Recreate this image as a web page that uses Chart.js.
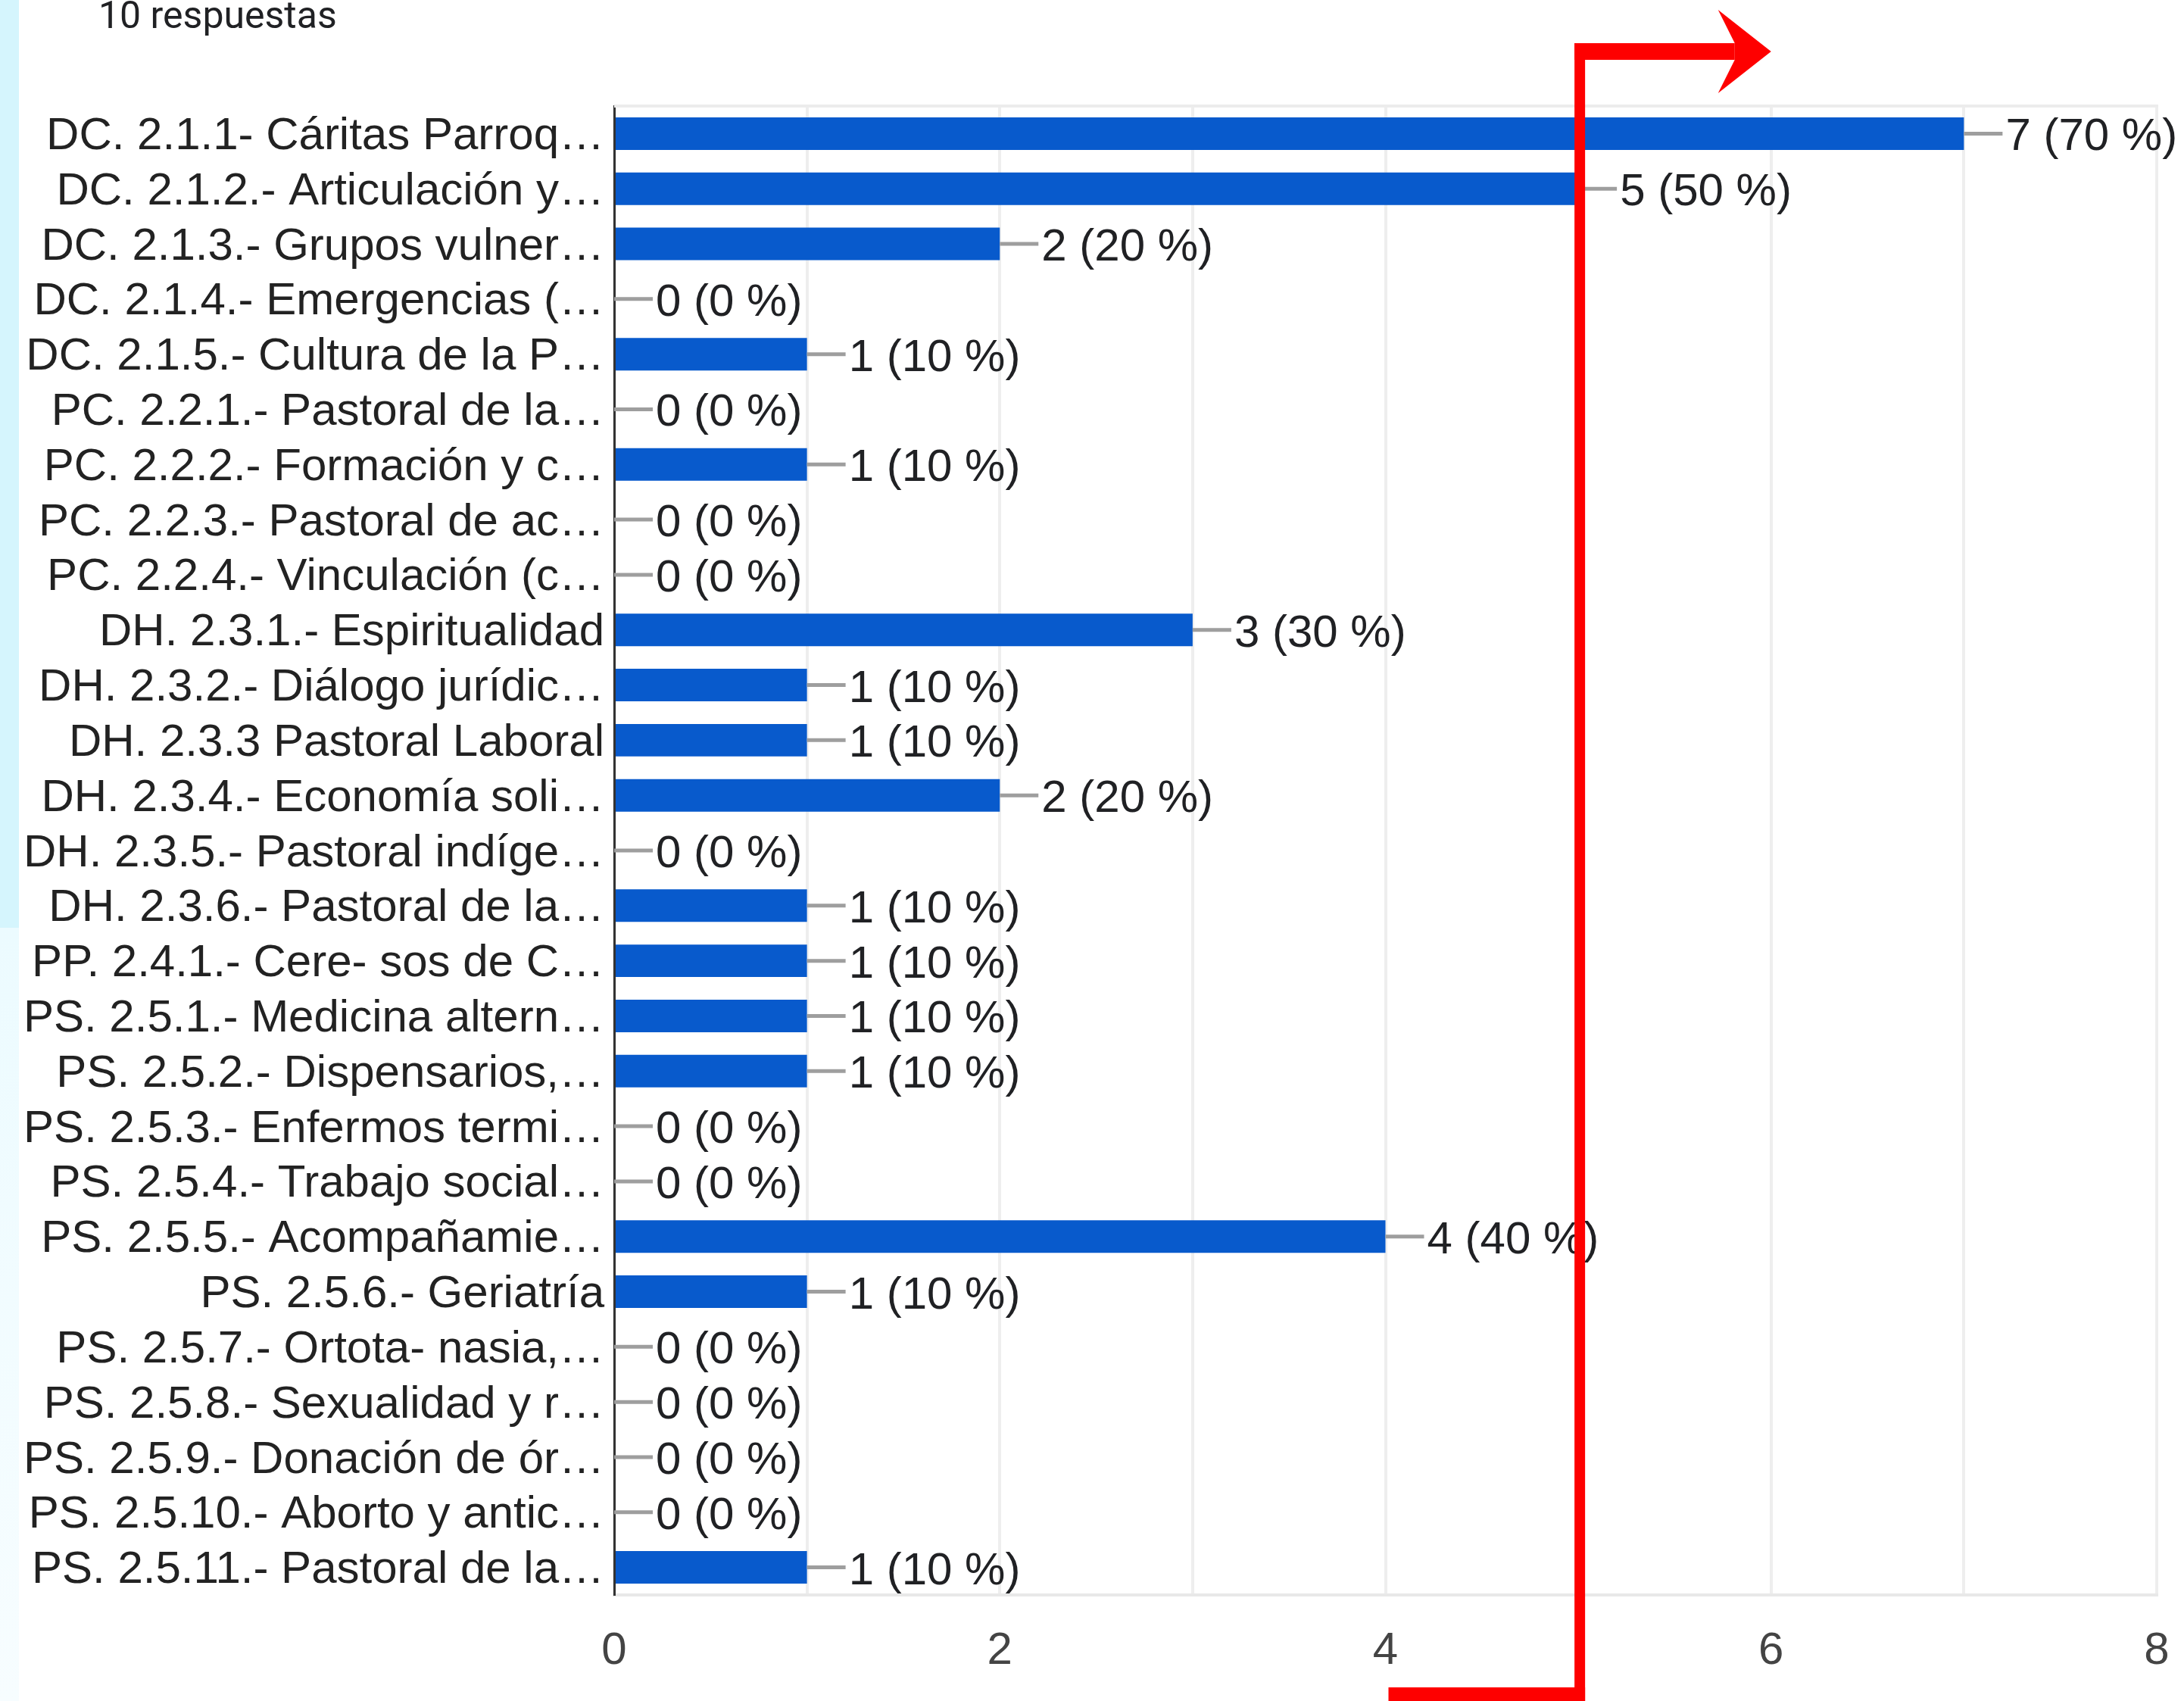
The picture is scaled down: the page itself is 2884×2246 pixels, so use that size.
<!DOCTYPE html>
<html>
<head>
<meta charset="utf-8">
<script src="https://cdn.jsdelivr.net/npm/chart.js@4/dist/chart.umd.min.js"></script>
<style>
  html, body { margin: 0; padding: 0; background: #ffffff; }
  #wrap { width: 2884px; height: 2246px; position: relative; }
  canvas { display: block; }
</style>
</head>
<body>
<div id="wrap"><canvas id="c" width="2884" height="2246"></canvas></div>
<script>
const categories = [
  "DC. 2.1.1- Cáritas Parroq…",
  "DC. 2.1.2.- Articulación y…",
  "DC. 2.1.3.- Grupos vulner…",
  "DC. 2.1.4.- Emergencias (…",
  "DC. 2.1.5.- Cultura de la P…",
  "PC. 2.2.1.- Pastoral de la…",
  "PC. 2.2.2.- Formación y c…",
  "PC. 2.2.3.- Pastoral de ac…",
  "PC. 2.2.4.- Vinculación (c…",
  "DH. 2.3.1.- Espiritualidad",
  "DH. 2.3.2.- Diálogo jurídic…",
  "DH. 2.3.3 Pastoral Laboral",
  "DH. 2.3.4.- Economía soli…",
  "DH. 2.3.5.- Pastoral indíge…",
  "DH. 2.3.6.- Pastoral de la…",
  "PP. 2.4.1.- Cere- sos de C…",
  "PS. 2.5.1.- Medicina altern…",
  "PS. 2.5.2.- Dispensarios,…",
  "PS. 2.5.3.- Enfermos termi…",
  "PS. 2.5.4.- Trabajo social…",
  "PS. 2.5.5.- Acompañamie…",
  "PS. 2.5.6.- Geriatría",
  "PS. 2.5.7.- Ortota- nasia,…",
  "PS. 2.5.8.- Sexualidad y r…",
  "PS. 2.5.9.- Donación de ór…",
  "PS. 2.5.10.- Aborto y antic…",
  "PS. 2.5.11.- Pastoral de la…"
];
const counts = [7, 5, 2, 0, 1, 0, 1, 0, 0, 3, 1, 1, 2, 0, 1, 1, 1, 1, 0, 0, 4, 1, 0, 0, 0, 0, 1];
const percents = [70, 50, 20, 0, 10, 0, 10, 0, 0, 30, 10, 10, 20, 0, 10, 10, 10, 10, 0, 0, 40, 10, 0, 0, 0, 0, 10];
const xTickValues = [0, 2, 4, 6, 8];
const subtitle = "10 respuestas";
const markerValue = 5;

const FONT = "'Liberation Sans', Arial, sans-serif";
const HEAD_FONT = "Roboto, sans-serif";

const decorPlugin = {
  id: 'decor',
  beforeDraw(chart) {
    const ctx = chart.ctx;
    ctx.save();
    ctx.fillStyle = '#ffffff';
    ctx.fillRect(0, 0, chart.width, chart.height);
    ctx.fillStyle = '#d5f5fd';
    ctx.fillRect(0, 0, 25, 1225);
    const g = ctx.createLinearGradient(0, 1225, 0, chart.height);
    g.addColorStop(0, '#ecfbff');
    g.addColorStop(1, '#f7fdff');
    ctx.fillStyle = g;
    ctx.fillRect(0, 1225, 25, chart.height - 1225);
    ctx.fillStyle = '#202124';
    ctx.font = "50px " + HEAD_FONT;
    ctx.textAlign = 'left';
    ctx.textBaseline = 'alphabetic';
    ctx.fillText(subtitle, 130, 37);
    ctx.restore();
  },
  beforeDatasetsDraw(chart) {
    const ctx = chart.ctx, a = chart.chartArea;
    ctx.save();
    ctx.strokeStyle = '#ececec';
    ctx.lineWidth = 4;
    ctx.beginPath();
    ctx.moveTo(a.left, a.top);
    ctx.lineTo(a.right + 2, a.top);
    ctx.stroke();
    ctx.restore();
  },
  afterDatasetsDraw(chart) {
    const ctx = chart.ctx;
    const meta = chart.getDatasetMeta(0);
    ctx.save();
    ctx.font = "60px " + FONT;
    ctx.textAlign = 'left';
    ctx.textBaseline = 'alphabetic';
    meta.data.forEach((bar, i) => {
      const x = bar.x, y = bar.y;
      ctx.strokeStyle = '#9e9e9e';
      ctx.lineWidth = 5;
      ctx.beginPath();
      ctx.moveTo(x, y);
      ctx.lineTo(x + 51, y);
      ctx.stroke();
      ctx.fillStyle = '#202124';
      ctx.fillText(counts[i] + ' (' + percents[i] + ' %)', x + 55, y + 22);
    });
    ctx.restore();
  },
  afterDraw(chart) {
    const ctx = chart.ctx;
    const xs = chart.scales.x;
    const xm = xs.getPixelForValue(markerValue) + 2;
    const xEnd = xs.getPixelForValue(markerValue + 1);
    const xStart = xs.getPixelForValue(markerValue - 1) + 4;
    ctx.save();
    ctx.fillStyle = '#fe0000';
    ctx.fillRect(xm - 7, 57, 14, chart.height - 57);
    ctx.fillRect(xm - 7, 57, (xEnd - 48) - (xm - 7), 22);
    ctx.beginPath();
    ctx.moveTo(xEnd - 70, 13);
    ctx.lineTo(xEnd, 68);
    ctx.lineTo(xEnd - 70, 123);
    ctx.lineTo(xEnd - 48, 79);
    ctx.lineTo(xEnd - 48, 57);
    ctx.closePath();
    ctx.fill();
    ctx.fillRect(xStart, 2228, xm + 7 - xStart, 18);
    ctx.restore();
  }
};

new Chart(document.getElementById('c'), {
  type: 'bar',
  data: {
    labels: categories,
    datasets: [{
      data: counts,
      backgroundColor: '#085acc',
      borderWidth: 0,
      barPercentage: 0.59,
      categoryPercentage: 1.0
    }]
  },
  options: {
    indexAxis: 'y',
    responsive: false,
    animation: false,
    devicePixelRatio: 1,
    layout: { padding: { left: 0, right: 36, top: 140, bottom: 0 } },
    plugins: {
      legend: { display: false },
      tooltip: { enabled: false },
      title: { display: false }
    },
    scales: {
      x: {
        min: 0,
        max: 8,
        afterFit(s) { s.height = 140; s.paddingLeft = 0; s.paddingRight = 0; },
        afterBuildTicks(s) {
          s.ticks = [0, 1, 2, 3, 4, 5, 6, 7, 8].map(v => ({ value: v }));
        },
        grid: { color: '#eeeeee', lineWidth: 4, drawTicks: false },
        border: { display: true, color: '#e8e8e8', width: 4 },
        ticks: {
          padding: 38,
          color: '#444444',
          font: { family: FONT, size: 60 },
          callback: (v) => xTickValues.includes(v) ? String(v) : ''
        }
      },
      y: {
        afterFit(s) { s.width = 811; },
        grid: { display: false, drawTicks: false },
        border: { display: true, color: '#333333', width: 3 },
        ticks: {
          padding: 13,
          labelOffset: 4,
          color: '#222222',
          font: { family: FONT, size: 60 },
          autoSkip: false
        }
      }
    }
  },
  plugins: [decorPlugin]
});
</script>
</body>
</html>
